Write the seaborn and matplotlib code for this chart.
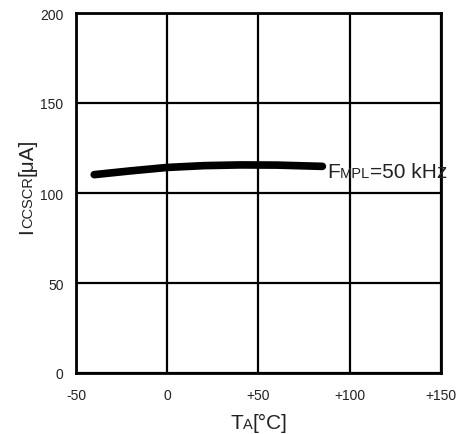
import matplotlib
matplotlib.use('Agg')
import matplotlib.pyplot as plt
import seaborn as sns
import pandas as pd
from matplotlib.transforms import IdentityTransform

# data
temps = [-40, -20, 0, 20, 40, 60, 85]
icc = [110.2, 112.3, 114.2, 115.2, 115.6, 115.5, 114.8]
x_ticks = [-50, 0, 50, 100, 150]
x_tick_labels = ['-50', '0', '+50', '+100', '+150']
y_ticks = [0, 50, 100, 150, 200]

BIG = 15
SMALL = 10.5

sns.set_style('white')
plt.rcParams['font.family'] = ['Liberation Sans', 'DejaVu Sans']

fig = plt.figure(figsize=(4.64, 4.35), dpi=100)
ax = fig.add_axes([76 / 464, 1 - 374 / 435, 365 / 464, 360 / 435])

df = pd.DataFrame({'ta': temps, 'icc': icc})
sns.lineplot(data=df, x='ta', y='icc', ax=ax, color='black', lw=5.5,
             solid_capstyle='round', zorder=3)

ax.set_xlim(-50, 150)
ax.set_ylim(0, 200)
ax.set_xticks(x_ticks)
ax.set_xticklabels(x_tick_labels)
ax.set_yticks(y_ticks)
ax.tick_params(length=0, labelsize=10, colors='#222222')
ax.tick_params(axis='x', pad=11)
ax.tick_params(axis='y', pad=9)
ax.grid(True, color='black', lw=1.6)
for s in ax.spines.values():
    s.set_color('black')
    s.set_linewidth(2)
ax.set_xlabel('')
ax.set_ylabel('')

renderer = fig.canvas.get_renderer()


def piece_widths(pieces):
    ws = []
    for txt, size in pieces:
        t = fig.text(0, 0, txt, fontsize=size)
        ws.append(t.get_window_extent(renderer).width)
        t.remove()
    return ws


def compose(pieces, x, y, rotate=False, center=False):
    # draws text pieces of mixed size on a shared baseline (display px)
    ws = piece_widths(pieces)
    start = -sum(ws) / 2 if center else 0
    cum = start
    for (txt, size), w in zip(pieces, ws):
        if rotate:
            pos = (x, y + cum)
        else:
            pos = (x + cum, y)
        fig.text(pos[0], pos[1], txt, fontsize=size, color='#222222',
                 transform=IdentityTransform(), ha='left', va='baseline',
                 rotation=90 if rotate else 0, rotation_mode='anchor')
        cum += w


H = 435
# x label
compose([('T', BIG), ('A', SMALL), ('[°C]', BIG)], 259, H - 429, center=True)
# y label
compose([('I', BIG), ('CCSCR', SMALL), ('[μA]', BIG)], 32, H - 234, rotate=True)
# curve label, anchored to last point of the curve
lx, ly = ax.transData.transform((temps[-1], icc[-1]))
compose([('F', BIG), ('MPL', SMALL), ('=50 kHz', BIG)], lx + 5, ly - 10.5)

fig.savefig('out.png', dpi=100)
